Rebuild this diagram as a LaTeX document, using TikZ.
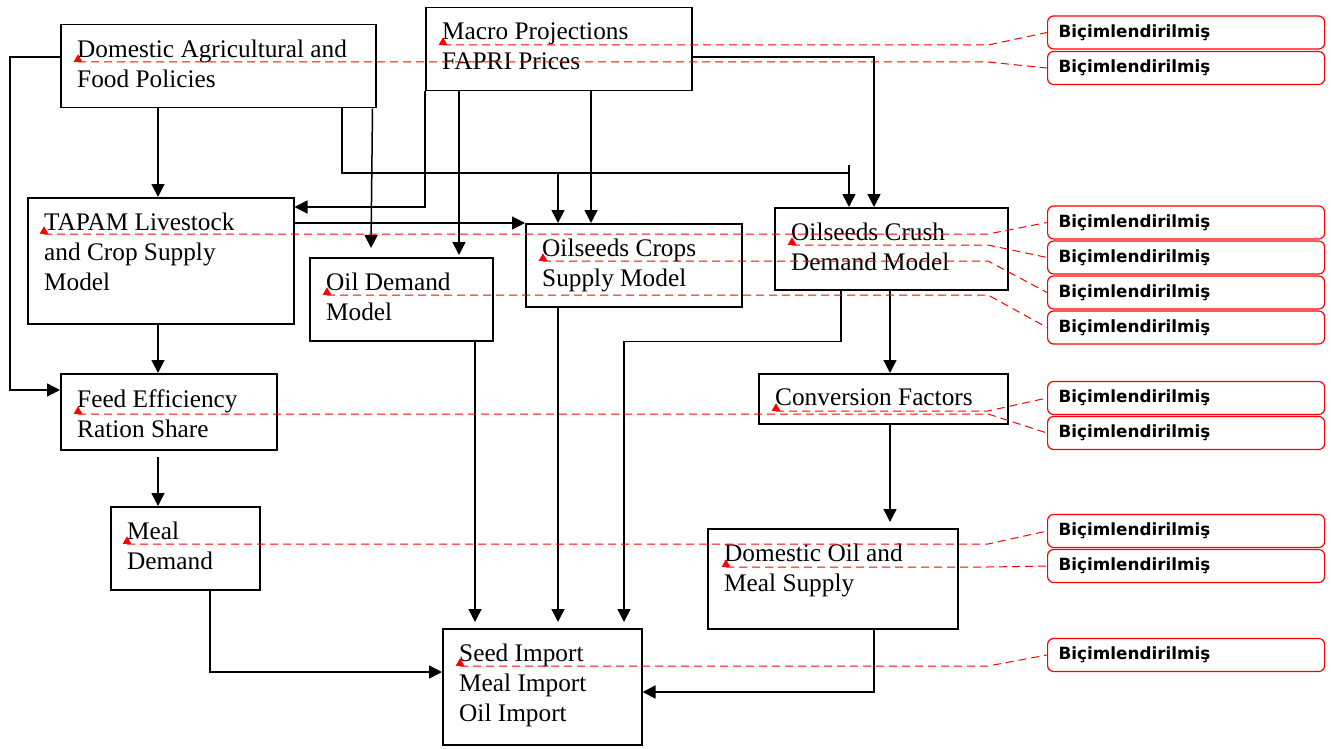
\documentclass[tikz,border=0pt]{standalone}
\usepackage{fontspec}
\setmainfont{Liberation Serif}
\newfontfamily\notefont{DejaVu Sans}
\usetikzlibrary{positioning,arrows.meta,shapes.geometric,calc}
\definecolor{markred}{RGB}{255,0,0}
\tikzset{
  box/.style={draw,line width=1.5pt,anchor=north west,inner sep=0pt},
  txt/.style={anchor=north west,align=left,inner sep=0pt,font=\fontsize{25.3}{30}\selectfont},
  arr/.style={line width=1.5pt,-{Triangle[length=13pt,width=13pt]}},
  note/.style={draw=markred,line width=1.2pt,rounded corners=6pt,anchor=west,minimum height=33pt,
    text width=255pt,inner xsep=11pt,align=left,font=\notefont\bfseries\fontsize{16.8}{18}\selectfont},
  cmark/.style={regular polygon,regular polygon sides=3,fill=markred,minimum size=10pt,inner sep=0pt,anchor=south},
  cline/.style={draw=markred,line width=1pt,dash pattern=on 8pt off 5pt}
}

\begin{document}
\begin{tikzpicture}[x=1pt,y=-1pt]
\useasboundingbox (0,0) rectangle (1331,749);
% model boxes
\node[box,minimum width=315,minimum height=83] (dap) at (60,24) {};
\node[box,minimum width=266,minimum height=83] (mac) at (425,7) {};
\node[box,minimum width=266,minimum height=126] (tap) at (27,197) {};
\node[box,minimum width=183,minimum height=83] (oil) at (309,257) {};
\node[box,minimum width=216,minimum height=83] (ocs) at (525,223) {};
\node[box,minimum width=233,minimum height=82] (ocd) at (774,207) {};
\node[box,minimum width=216,minimum height=76] (fee) at (60,373) {};
\node[box,minimum width=149,minimum height=83] (mea) at (110,506) {};
\node[box,minimum width=249,minimum height=50] (con) at (758,373) {};
\node[box,minimum width=250,minimum height=100] (dom) at (707,528) {};
\node[box,minimum width=199,minimum height=116] (imp) at (442,628) {};
% box texts
\node[txt] (dapt) at ([xshift=17,yshift=-16]dap.north west) {Domestic Agricultural and\\Food Policies};
\node[txt] (mact) at ([xshift=17,yshift=-16]mac.north west) {Macro Projections\\FAPRI Prices};
\node[txt] (tapt) at ([xshift=17,yshift=-16]tap.north west) {TAPAM Livestock\\and Crop Supply\\Model};
\node[txt] (oilt) at ([xshift=17,yshift=-16]oil.north west) {Oil Demand\\Model};
\node[txt] (ocst) at ([xshift=17,yshift=-16]ocs.north west) {Oilseeds Crops\\Supply Model};
\node[txt] (ocdt) at ([xshift=17,yshift=-16]ocd.north west) {Oilseeds Crush\\Demand Model};
\node[txt] (feet) at ([xshift=17,yshift=-16]fee.north west) {Feed Efficiency\\Ration Share};
\node[txt] (meat) at ([xshift=17,yshift=-16]mea.north west) {Meal\\Demand};
\node[txt] (cont) at ([xshift=17,yshift=-16]con.north west) {Conversion Factors};
\node[txt] (domt) at ([xshift=17,yshift=-16]dom.north west) {Domestic Oil and\\Meal Supply};
\node[txt] (impt) at ([xshift=17,yshift=-16]imp.north west) {Seed Import\\Meal Import\\Oil Import};
% flows
\draw[arr] ([xshift=98]dap.south west) -- ([xshift=131]tap.north west);
\draw[arr] ([yshift=-33]dap.north west) -- ++(-50,0) |- ([yshift=-17]fee.north west);
\draw[arr] ([xshift=282]dap.south west) |- ([xshift=75,yshift=34]ocd.north west) -- ([xshift=75]ocd.north west);
\draw[line width=1.5pt] ([xshift=75,yshift=34]ocd.north west) -- ++(0,-8);
\draw[arr] ([xshift=33,yshift=50]ocs.north west) -- ([xshift=33]ocs.north west);
\draw[arr] ([xshift=-4]dap.south east) -- ([xshift=62,yshift=9]oil.north west);
\draw[arr] ([xshift=34]mac.south west) -- ([xshift=150,yshift=2]oil.north west);
\draw[arr] ([xshift=166]mac.south west) -- ([xshift=66]ocs.north west);
\draw[arr] ([yshift=-50]mac.north east) -| ([xshift=100]ocd.north west);
\draw[arr] (mac.south west) |- ([yshift=-10]tap.north east);
\draw[arr] ([yshift=-26]tap.north east) -- (ocs.north west);
\draw[arr] ([xshift=131]tap.south west) -- ([xshift=98]fee.north west);
\draw[arr] ([xshift=98,yshift=-6]fee.south west) -- ([xshift=48]mea.north west);
\draw[arr] ([xshift=100]mea.south west) |- ([yshift=-44]imp.north west);
\draw[arr] ([xshift=166]oil.south west) -- ([xshift=33,yshift=6]imp.north west);
\draw[arr] ([xshift=33]ocs.south west) -- ([xshift=116,yshift=6]imp.north west);
\draw[arr] ([xshift=67]ocd.south west) -- ++(0,51) -| ([xshift=182,yshift=6]imp.north west);
\draw[arr] ([xshift=116]ocd.south west) -- ([xshift=132]con.north west);
\draw[arr] ([xshift=132]con.south west) -- ([xshift=183,yshift=6]dom.north west);
\draw[arr] ([xshift=167]dom.south west) |- ([yshift=-64]imp.north east);
% comment balloons
\node[note] (n1) at (1047,32.5) {Biçimlendirilmiş};
\node[note] (n2) at (1047,68) {Biçimlendirilmiş};
\node[note] (n3) at (1047,222.5) {Biçimlendirilmiş};
\node[note] (n4) at (1047,257.5) {Biçimlendirilmiş};
\node[note] (n5) at (1047,292.5) {Biçimlendirilmiş};
\node[note] (n6) at (1047,327.5) {Biçimlendirilmiş};
\node[note] (n7) at (1047,398) {Biçimlendirilmiş};
\node[note] (n8) at (1047,433) {Biçimlendirilmiş};
\node[note] (n9) at (1047,531) {Biçimlendirilmiş};
\node[note] (n10) at (1047,566) {Biçimlendirilmiş};
\node[note] (n11) at (1047,655) {Biçimlendirilmiş};
% comment anchors
\node[cmark] (k1) at (443,45) {};
\node[cmark] (k2) at (78,62) {};
\node[cmark] (k3) at (44,234) {};
\node[cmark] (k4) at (792,245) {};
\node[cmark] (k5) at (543,261) {};
\node[cmark] (k6) at (327,295) {};
\node[cmark] (k7) at (776,411) {};
\node[cmark] (k8) at (78,414) {};
\node[cmark] (k9) at (127,544) {};
\node[cmark] (k10) at (726,567) {};
\node[cmark] (k11) at (460,666) {};
\coordinate (bend) at (988,0);
\draw[cline] (k1.south) -- (k1.south -| bend) -- (n1.west);
\draw[cline] (k2.south) -- (k2.south -| bend) -- (n2.west);
\draw[cline] (k3.south) -- (k3.south -| bend) -- (n3.west);
\draw[cline] (k4.south) -- (k4.south -| bend) -- (n4.west);
\draw[cline] (k5.south) -- (k5.south -| bend) -- (n5.west);
\draw[cline] (k6.south) -- (k6.south -| bend) -- (n6.west);
\draw[cline] (k7.south) -- (k7.south -| bend) -- (n7.west);
\draw[cline] (k8.south) -- (k8.south -| bend) -- (n8.west);
\draw[cline] (k9.south) -- (k9.south -| bend) -- (n9.west);
\draw[cline] (k10.south) -- (k10.south -| bend) -- (n10.west);
\draw[cline] (k11.south) -- (k11.south -| bend) -- (n11.west);
\end{tikzpicture}
\end{document}
